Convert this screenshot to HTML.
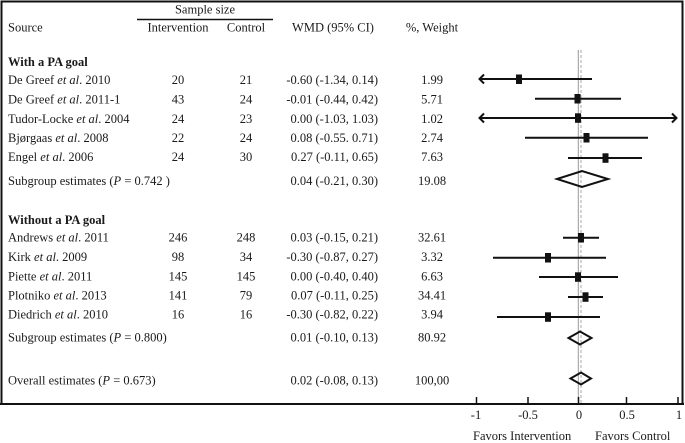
<!DOCTYPE html>
<html><head><meta charset="utf-8">
<style>
html,body{margin:0;padding:0;background:#fff;}
svg{display:block;}
text{font-family:"Liberation Serif",serif;font-size:12.5px;fill:#1a1a1a;}
.b{font-weight:bold;}
.m{text-anchor:middle;}
.r{text-anchor:end;}
</style></head>
<body>
<svg width="685" height="443" viewBox="0 0 685 443" xmlns="http://www.w3.org/2000/svg">
<rect x="0" y="0" width="685" height="443" fill="#fff"/>
<!-- box -->
<path d="M1.5,404 V1.5 H682.5 V404" fill="none" stroke="#111" stroke-width="2"/>
<line x1="0" y1="404" x2="684" y2="404" stroke="#111" stroke-width="2"/>

<!-- header -->
<text class="m" x="205" y="13.5">Sample size</text>
<line x1="137" y1="19.5" x2="273" y2="19.5" stroke="#111" stroke-width="1.5"/>
<text x="8" y="31.7">Source</text>
<text class="m" x="178" y="31.7">Intervention</text>
<text class="m" x="246" y="31.7">Control</text>
<text class="m" x="333" y="31.7">WMD (95% CI)</text>
<text class="m" x="432" y="31.7">%, Weight</text>

<!-- group 1 -->
<text class="b" x="8" y="66">With a PA goal</text>
<text x="8" y="84">De Greef <tspan font-style="italic">et al</tspan>. 2010</text>
<text class="m" x="178" y="84">20</text><text class="m" x="246" y="84">21</text>
<text class="r" x="378" y="84">-0.60 (-1.34, 0.14)</text><text class="m" x="432" y="84">1.99</text>

<text x="8" y="103.5">De Greef <tspan font-style="italic">et al</tspan>. 2011-1</text>
<text class="m" x="178" y="103.5">43</text><text class="m" x="246" y="103.5">24</text>
<text class="r" x="378" y="103.5">-0.01 (-0.44, 0.42)</text><text class="m" x="432" y="103.5">5.71</text>

<text x="8" y="123">Tudor-Locke <tspan font-style="italic">et al</tspan>. 2004</text>
<text class="m" x="178" y="123">24</text><text class="m" x="246" y="123">23</text>
<text class="r" x="378" y="123">0.00 (-1.03, 1.03)</text><text class="m" x="432" y="123">1.02</text>

<text x="8" y="142">Bjørgaas <tspan font-style="italic">et al</tspan>. 2008</text>
<text class="m" x="178" y="142">22</text><text class="m" x="246" y="142">24</text>
<text class="r" x="378" y="142">0.08 (-0.55. 0.71)</text><text class="m" x="432" y="142">2.74</text>

<text x="8" y="161">Engel <tspan font-style="italic">et al</tspan>. 2006</text>
<text class="m" x="178" y="161">24</text><text class="m" x="246" y="161">30</text>
<text class="r" x="378" y="161">0.27 (-0.11, 0.65)</text><text class="m" x="432" y="161">7.63</text>

<text x="8" y="185">Subgroup estimates (<tspan font-style="italic">P</tspan> = 0.742 )</text>
<text class="r" x="378" y="185">0.04 (-0.21, 0.30)</text><text class="m" x="432" y="185">19.08</text>

<!-- group 2 -->
<text class="b" x="8" y="224">Without a PA goal</text>
<text x="8" y="241.7">Andrews <tspan font-style="italic">et al</tspan>. 2011</text>
<text class="m" x="178" y="241.7">246</text><text class="m" x="246" y="241.7">248</text>
<text class="r" x="378" y="241.7">0.03 (-0.15, 0.21)</text><text class="m" x="432" y="241.7">32.61</text>

<text x="8" y="261">Kirk <tspan font-style="italic">et al</tspan>. 2009</text>
<text class="m" x="178" y="261">98</text><text class="m" x="246" y="261">34</text>
<text class="r" x="378" y="261">-0.30 (-0.87, 0.27)</text><text class="m" x="432" y="261">3.32</text>

<text x="8" y="280.3">Piette <tspan font-style="italic">et al</tspan>. 2011</text>
<text class="m" x="178" y="280.3">145</text><text class="m" x="246" y="280.3">145</text>
<text class="r" x="378" y="280.3">0.00 (-0.40, 0.40)</text><text class="m" x="432" y="280.3">6.63</text>

<text x="8" y="299.3">Plotniko <tspan font-style="italic">et al</tspan>. 2013</text>
<text class="m" x="178" y="299.3">141</text><text class="m" x="246" y="299.3">79</text>
<text class="r" x="378" y="299.3">0.07 (-0.11, 0.25)</text><text class="m" x="432" y="299.3">34.41</text>

<text x="8" y="318.3">Diedrich <tspan font-style="italic">et al</tspan>. 2010</text>
<text class="m" x="178" y="318.3">16</text><text class="m" x="246" y="318.3">16</text>
<text class="r" x="378" y="318.3">-0.30 (-0.82, 0.22)</text><text class="m" x="432" y="318.3">3.94</text>

<text x="8" y="341.7">Subgroup estimates (<tspan font-style="italic">P</tspan> = 0.800)</text>
<text class="r" x="378" y="341.7">0.01 (-0.10, 0.13)</text><text class="m" x="432" y="341.7">80.92</text>

<text x="8" y="384.3">Overall estimates (<tspan font-style="italic">P</tspan> = 0.673)</text>
<text class="r" x="378" y="384.3">0.02 (-0.08, 0.13)</text><text class="m" x="432" y="384.3">100,00</text>

<!-- reference lines -->
<line x1="578.3" y1="50" x2="578.3" y2="404" stroke="#999" stroke-width="1"/>
<line x1="581" y1="50" x2="581" y2="404" stroke="#aaa" stroke-width="1" stroke-dasharray="3,2"/>

<!-- CIs -->
<g stroke="#111" stroke-width="2" fill="none">
<line x1="479" y1="79" x2="592" y2="79"/>
<path d="M484,74.5 L479.5,79 L484,83.5"/>
<line x1="535" y1="98.7" x2="621" y2="98.7"/>
<line x1="479" y1="118" x2="677" y2="118"/>
<path d="M484,113.5 L479.5,118 L484,122.5"/>
<path d="M672,113.5 L676.5,118 L672,122.5"/>
<line x1="525" y1="137.7" x2="648" y2="137.7"/>
<line x1="568" y1="158" x2="642" y2="158"/>

<line x1="563" y1="237.7" x2="599" y2="237.7"/>
<line x1="493" y1="257.7" x2="606" y2="257.7"/>
<line x1="539" y1="277" x2="618" y2="277"/>
<line x1="568" y1="297" x2="603" y2="297"/>
<line x1="497" y1="317" x2="600" y2="317"/>
</g>

<!-- squares -->
<g fill="#111">
<rect x="516" y="74.5" width="6" height="9.5"/>
<rect x="574.5" y="94" width="6" height="9.5"/>
<rect x="575" y="113.3" width="6" height="9.5"/>
<rect x="583.5" y="133" width="6" height="9.5"/>
<rect x="602.5" y="153.3" width="6" height="9.5"/>

<rect x="578" y="233" width="6" height="9.5"/>
<rect x="545" y="253" width="6" height="9.5"/>
<rect x="575" y="272.3" width="6" height="9.5"/>
<rect x="582.5" y="292.3" width="6" height="9.5"/>
<rect x="545" y="312.3" width="6" height="9.5"/>
</g>

<!-- diamonds -->
<g stroke="#111" stroke-width="2" fill="#fff" fill-opacity="0">
<path d="M557,179 L582,171 L608,179 L582,187 Z"/>
<path d="M568.5,338 L580,331.5 L591.5,338 L580,344.5 Z"/>
<path d="M570.5,378.5 L581,372.5 L591,378.5 L581,384.5 Z"/>
</g>

<!-- axis ticks -->
<g stroke="#111" stroke-width="1.5">
<line x1="476.5" y1="397" x2="476.5" y2="404"/>
<line x1="528" y1="397" x2="528" y2="404"/>
<line x1="578.5" y1="397" x2="578.5" y2="404"/>
<line x1="626.5" y1="397" x2="626.5" y2="404"/>
<line x1="678" y1="397" x2="678" y2="404"/>
</g>
<text class="m" x="476" y="419">-1</text>
<text class="m" x="528" y="419">-0.5</text>
<text class="m" x="579" y="419">0</text>
<text class="m" x="627" y="419">0.5</text>
<text class="m" x="679" y="419">1</text>
<text x="473" y="440">Favors Intervention</text>
<text x="595" y="440">Favors Control</text>
</svg>
</body></html>
